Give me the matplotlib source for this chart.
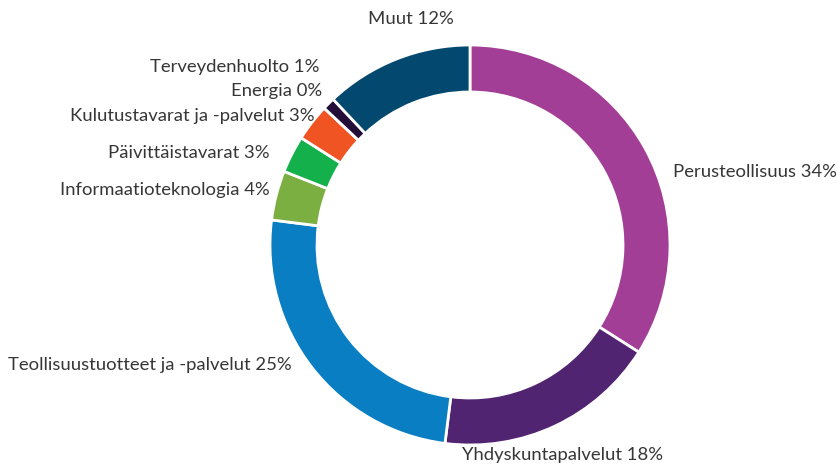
import matplotlib
matplotlib.use("Agg")
import matplotlib.pyplot as plt

# data (clockwise from 12 o'clock)
labels = ["Perusteollisuus", "Yhdyskuntapalvelut", "Teollisuustuotteet ja -palvelut",
          "Informaatioteknologia", "Päivittäistavarat", "Kulutustavarat ja -palvelut",
          "Energia", "Terveydenhuolto", "Muut"]
shares = [34, 18, 25, 4, 3, 3, 0, 1, 12]
colors = ["#A23E96", "#512472", "#0A7EC2", "#7CAF41", "#13B04B", "#F05423",
          "#3A1F5C", "#220E38", "#03486E"]

# label anchors (data units of the pie axes) and alignment
label_pos = [(1.015, 0.365, "left"), (0.465, -1.05, "center"), (-0.89, -0.60, "right"),
             (-1.0, 0.275, "right"), (-1.0, 0.46, "right"), (-0.775, 0.645, "right"),
             (-0.74, 0.77, "right"), (-0.755, 0.89, "right"), (-0.295, 1.13, "center")]

plt.rcParams['font.family'] = ['Lato', 'DejaVu Sans']

W, H = 838, 465
fig = plt.figure(figsize=(W / 100, H / 100), dpi=100)
cx, cy, R = 470, 245, 200
ax = fig.add_axes([(cx - R) / W, (H - cy - R) / H, 2 * R / W, 2 * R / H])

ax.pie(shares, colors=colors, startangle=90, counterclock=False, radius=1,
       wedgeprops=dict(width=0.235, edgecolor="white", linewidth=2))
ax.set_xlim(-1, 1)
ax.set_ylim(-1, 1)
ax.set_aspect("equal")
ax.axis("off")

for name, val, (x, y, ha) in zip(labels, shares, label_pos):
    ax.text(x, y, f"{name} {val}%", ha=ha, va="center", fontsize=13.3,
            color="#363636", clip_on=False)

fig.savefig("out.png", dpi=100)
